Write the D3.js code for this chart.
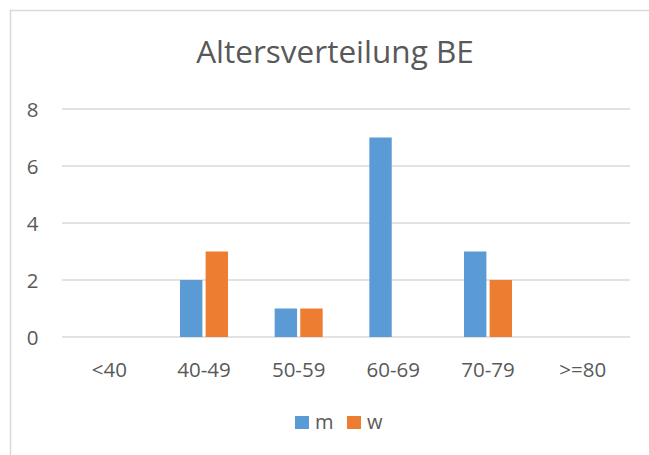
<!DOCTYPE html>
<html><head><meta charset="utf-8">
<script src="https://cdn.jsdelivr.net/npm/d3@7"></script>
<style>html,body{margin:0;padding:0;background:#fff;}svg{display:block;}</style>
</head><body>
<script>
const categories = ["<40", "40-49", "50-59", "60-69", "70-79", ">=80"];
const seriesNames = ["m", "w"];
const mValues = [0, 2, 1, 7, 3, 0];
const wValues = [0, 3, 1, 0, 2, 0];
const yTicks = [0, 2, 4, 6, 8];
const title = "Altersverteilung BE";
const colors = ["#5B9BD5", "#ED7D31"];

const W = 649, H = 455;
const svg = d3.select("body").append("svg").attr("width", W).attr("height", H);
const font = "'Open Sans', 'Noto Sans', sans-serif";
const textColor = "#595959";
const labelSize = 20.5;

// chart border
svg.append("rect").attr("x", 10.5).attr("y", 10.5).attr("width", 700).attr("height", 500)
  .attr("fill", "#fff").attr("stroke", "#d9d9d9").attr("stroke-width", 1.5);

const plot = {left: 62, right: 630, top: 109, bottom: 337};
const x = d3.scaleBand().domain(categories).range([plot.left, plot.right]);
const y = d3.scaleLinear().domain([0, 8]).range([plot.bottom, plot.top]);
const barW = 21, barGap = 6;
const sub = d3.scaleBand().domain(seriesNames).range([-(barW + barGap / 2), barW + barGap / 2]).paddingInner(barGap / (2 * barW + barGap));

// gridlines
svg.append("g").selectAll("line").data(yTicks).join("line")
  .attr("x1", plot.left).attr("x2", plot.right)
  .attr("y1", d => y(d)).attr("y2", d => y(d))
  .attr("stroke", "#d9d9d9").attr("stroke-width", 1.3);

// y labels
svg.append("g").selectAll("text").data(yTicks).join("text")
  .attr("x", 38.5).attr("y", d => y(d) + 7.5)
  .attr("text-anchor", "end").attr("font-family", font).attr("font-size", labelSize)
  .attr("fill", textColor).text(d => d);

// bars
const data = [mValues, wValues];
seriesNames.forEach((s, si) => {
  svg.append("g").selectAll("rect").data(categories).join("rect")
    .attr("x", c => x(c) + x.bandwidth() / 2 + sub(s))
    .attr("width", sub.bandwidth())
    .attr("y", (c, i) => y(data[si][i]))
    .attr("height", (c, i) => y(0) - y(data[si][i]))
    .attr("fill", colors[si]);
});

// x labels
svg.append("g").selectAll("text").data(categories).join("text")
  .attr("x", c => x(c) + x.bandwidth() / 2).attr("y", 377)
  .attr("text-anchor", "middle").attr("font-family", font).attr("font-size", labelSize)
  .attr("fill", textColor).text(c => c);

// title
svg.append("text").attr("x", 335).attr("y", 63).attr("text-anchor", "middle")
  .attr("font-family", font).attr("font-size", 31.5).attr("fill", textColor).text(title);

// legend
const legendX = [295, 347];
seriesNames.forEach((s, si) => {
  svg.append("rect").attr("x", legendX[si]).attr("y", 416).attr("width", 14).attr("height", 13).attr("fill", colors[si]);
  svg.append("text").attr("x", legendX[si] + 20).attr("y", 429)
    .attr("font-family", font).attr("font-size", 20).attr("fill", textColor).text(s);
});
</script>
</body></html>
